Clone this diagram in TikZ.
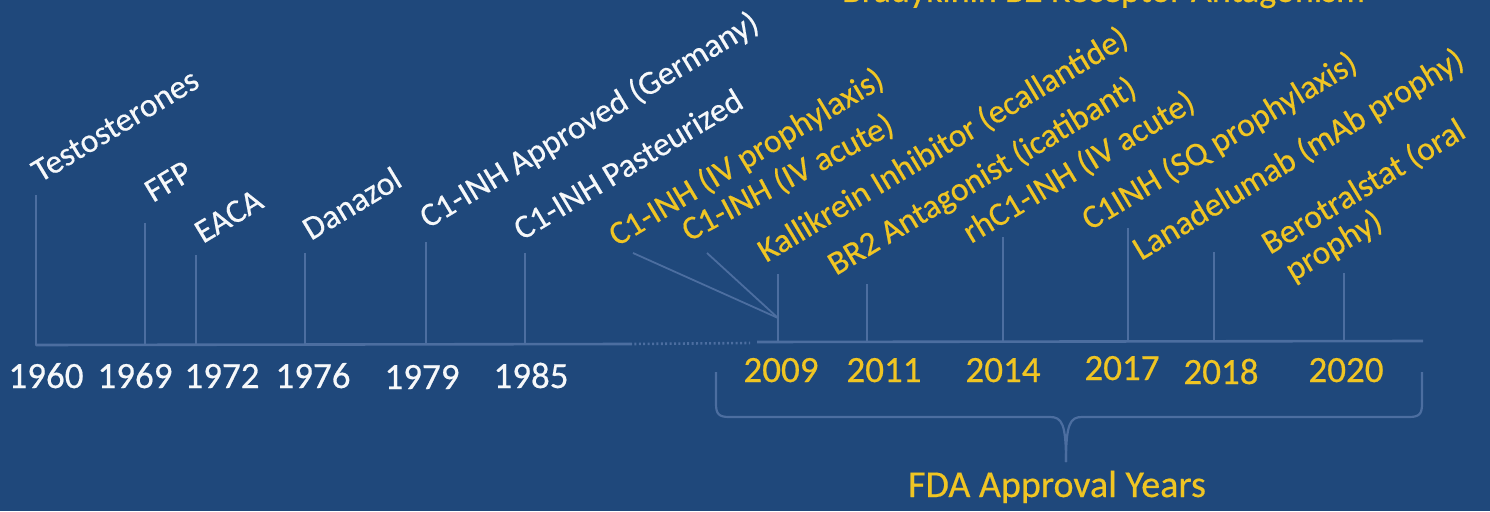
\documentclass[tikz,border=0pt]{standalone}
\usepackage{fontspec}
\setmainfont{Carlito}
\newfontfamily\slidefont{Carlito}[FakeBold=0.45]
\definecolor{bgblue}{RGB}{31,72,123}
\definecolor{rule}{RGB}{76,110,160}
\definecolor{gold}{RGB}{240,197,35}
\definecolor{paper}{RGB}{246,248,250}
\begin{document}
\begin{tikzpicture}[x=1pt,y=-1pt,
  axisline/.style={draw=rule,line width=2.6pt},
  tickline/.style={draw=rule,line width=2.2pt},
  lbl/.style={inner sep=0pt,rotate=31,anchor=base west,font=\slidefont\fontsize{33.5}{37}\selectfont},
  oldlbl/.style={lbl,text=paper},
  newlbl/.style={lbl,text=gold},
  yr/.style={inner sep=0pt,anchor=base,font=\slidefont\fontsize{37}{40}\selectfont},
  oldyr/.style={yr,text=paper},
  newyr/.style={yr,text=gold}]
\useasboundingbox (0,0) rectangle (1490,511);
\clip (0,0) rectangle (1490,511);
\fill[bgblue] (0,0) rectangle (1490,511);

% heading running off the top edge
\node[inner sep=0pt,anchor=base west,text=gold,font=\slidefont\fontsize{36}{40}\selectfont]
  (head) at (842,2) {Bradykinin B2 Receptor Antagonism};

% axis: early segment, dotted gap, FDA segment
\coordinate (a0) at (36,345);
\coordinate (a1) at (630,344);
\coordinate (a2) at (750,343);
\coordinate (a3) at (757,342);
\coordinate (a4) at (1423,341);
\draw[axisline] (a0) -- (a1);
\draw[axisline,dash pattern=on 2pt off 2.4pt] (a1) -- (a2);
\draw[axisline] (a3) -- (a4);

% ticks: foot on the axis, head under the label
\foreach \n/\x/\yb/\yt in {1960/36/345/195, 1969/145/345/223, 1972/196/345/255,
  1976/305/345/253, 1979/426/344/242, 1985/525/344/253,
  2009/778/342/274, 2011/867/342/284, 2014/1003/342/237,
  2017/1128/341/228, 2018/1214/341/252, 2020/1344/341/273} {
  \coordinate (b\n) at (\x,\yb);
  \coordinate (t\n) at (\x,\yt);
  \draw[tickline] (b\n) -- (t\n);
}
\draw[tickline,line cap=round] (b1960) -- (a0);

% two 2009 entries share one tick
\coordinate (m2009) at (778,318);
\coordinate (p1) at (633,253);
\coordinate (p2) at (707,253);
\draw[tickline,line width=1.8pt] (p1) -- (m2009);
\draw[tickline,line width=1.8pt] (p2) -- (m2009);

% year labels
\node[oldyr] (y1960) at (46,388) {1960};
\node[oldyr] (y1969) at (135,388) {1969};
\node[oldyr] (y1972) at (222,388) {1972};
\node[oldyr] (y1976) at (313,388) {1976};
\node[oldyr] (y1979) at (422,389) {1979};
\node[oldyr] (y1985) at (531,388) {1985};
\node[newyr] (y2009) at (781,382) {2009};
\node[newyr] (y2011) at (884,382) {2011};
\node[newyr] (y2014) at (1003,382) {2014};
\node[newyr] (y2017) at (1122,380) {2017};
\node[newyr] (y2018) at (1221,384) {2018};
\node[newyr] (y2020) at (1346,382) {2020};

% event labels
\node[oldlbl] (l1960) at (40,183) {Testosterones};
\node[oldlbl] (l1969) at (153,203) {FFP};
\node[oldlbl] (l1972) at (203,244) {EACA};
\node[oldlbl] (l1976) at (311,241) {Danazol};
\node[oldlbl] (l1979) at (428,229) {C1-INH Approved (Germany)};
\node[oldlbl] (l1985) at (522,241) {C1-INH Pasteurized};
\node[newlbl] (l2009a) at (617,247) {C1-INH (IV prophylaxis)};
\node[newlbl,rotate=-3] (l2009b) at (689,242) {C1-INH (IV acute)};
\node[newlbl] (l2009c) at (766,263) {Kallikrein Inhibitor (ecallantide)};
\node[newlbl] (l2011) at (836,276) {BR2 Antagonist (icatibant)};
\node[newlbl] (l2014) at (971,244) {rhC1-INH (IV acute)};
\node[newlbl] (l2017) at (1090,231) {C1INH (SQ prophylaxis)};
\node[newlbl] (l2018) at (1141,261) {Lanadelumab (mAb prophy)};
\node[newlbl,align=left] (l2020) at (1288,285) {Berotralstat (oral\\[-2pt]\hspace*{6pt}prophy)};

% brace under the FDA years
\coordinate (bl) at (716,372);
\coordinate (bm) at (1066,462);
\coordinate (br) at (1422,372);
\draw[rule,line width=2.2pt]
  (bl) -- (716,404) .. controls (716,414) and (719,417) .. (729,417)
  -- (1050,417) .. controls (1062,417) and (1066,424) .. (bm);
\draw[rule,line width=2.2pt]
  (bm) .. controls (1066,424) and (1070,417) .. (1082,417)
  -- (1409,417) .. controls (1419,417) and (1422,414) .. (1422,404) -- (br);
\node[inner sep=0pt,anchor=base,text=gold,font=\slidefont\fontsize{38}{42}\selectfont]
  (fda) at (1057,497) {FDA Approval Years};
\end{tikzpicture}
\end{document}
